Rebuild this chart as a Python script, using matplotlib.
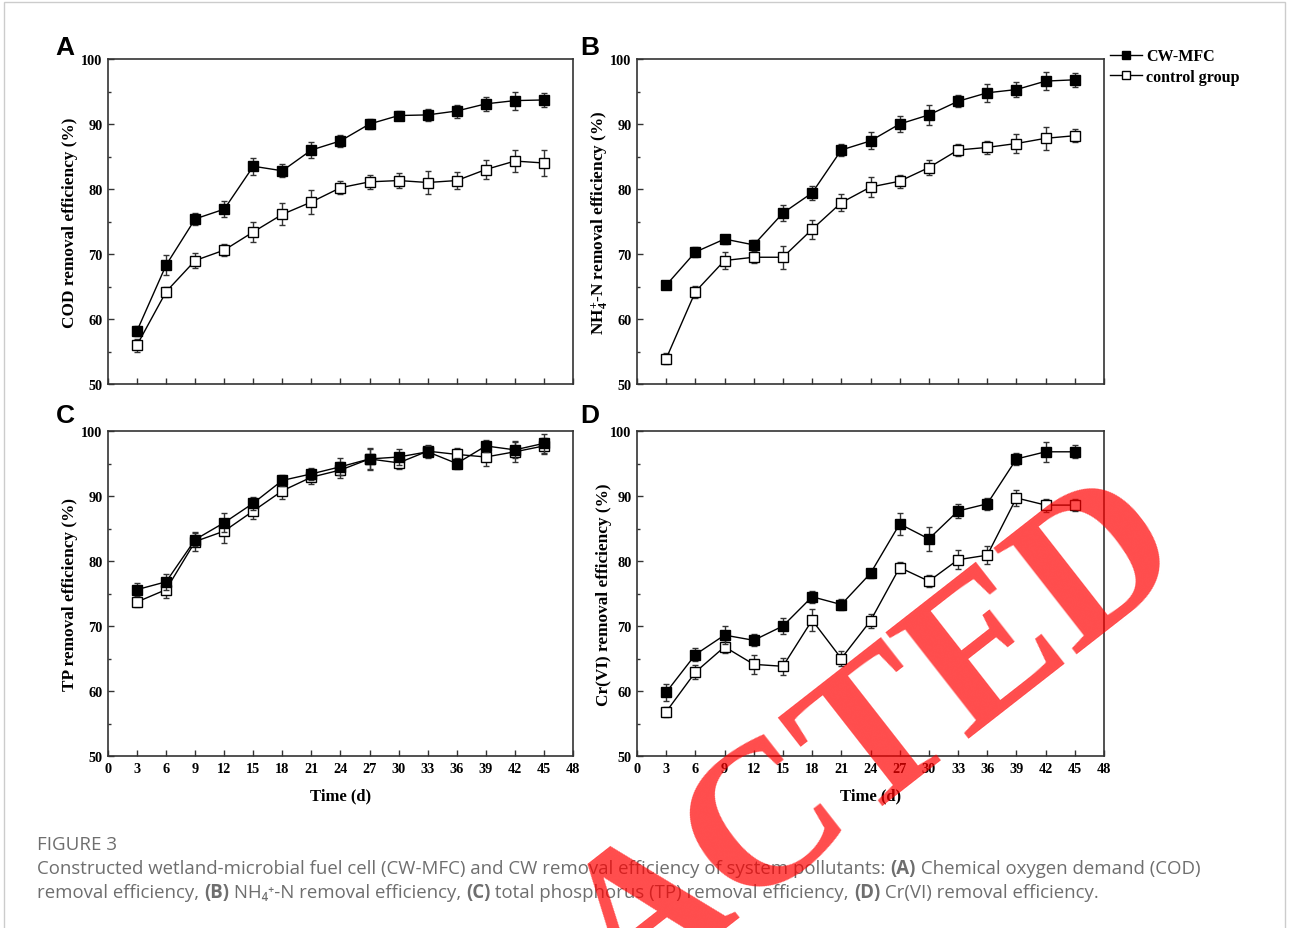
import matplotlib
matplotlib.use("Agg")
import matplotlib.pyplot as plt
from matplotlib.patches import Rectangle
from matplotlib.lines import Line2D
from matplotlib.ticker import MultipleLocator

# ---------------- data ----------------
days = [3, 6, 9, 12, 15, 18, 21, 24, 27, 30, 33, 36, 39, 42, 45]
xticks = list(range(0, 49, 3))

cod_mfc = [58.2, 68.3, 75.4, 76.9, 83.5, 82.8, 86.0, 87.4, 90.0, 91.3, 91.4, 92.0, 93.1, 93.6, 93.7]
cod_mfc_err = [0.8, 1.5, 0.9, 1.2, 1.3, 1.0, 1.2, 0.9, 0.8, 0.7, 0.9, 1.0, 1.1, 1.4, 1.1]
cod_ctl = [56.0, 64.2, 69.0, 70.6, 73.4, 76.1, 78.0, 80.2, 81.1, 81.3, 81.0, 81.3, 83.0, 84.3, 84.0]
cod_ctl_err = [1.0, 0.8, 1.2, 0.9, 1.6, 1.7, 1.9, 1.0, 1.1, 1.2, 1.7, 1.3, 1.4, 1.7, 2.0]

nh_mfc = [65.2, 70.3, 72.3, 71.4, 76.3, 79.4, 86.0, 87.4, 90.0, 91.4, 93.5, 94.8, 95.3, 96.6, 96.8]
nh_mfc_err = [0.6, 0.8, 0.7, 0.8, 1.2, 1.1, 0.9, 1.3, 1.3, 1.5, 0.9, 1.4, 1.2, 1.4, 1.1]
nh_ctl = [53.9, 64.2, 69.0, 69.5, 69.5, 73.8, 77.9, 80.3, 81.2, 83.3, 86.0, 86.4, 87.0, 87.8, 88.2]
nh_ctl_err = [0.8, 0.9, 1.3, 0.9, 1.8, 1.5, 1.3, 1.5, 1.0, 1.2, 0.9, 1.0, 1.4, 1.8, 1.0]

tp_mfc = [75.6, 76.8, 83.3, 85.9, 88.9, 92.4, 93.4, 94.5, 95.7, 96.0, 96.8, 95.0, 97.7, 97.1, 98.1]
tp_mfc_err = [1.0, 1.2, 1.0, 1.5, 1.0, 0.8, 0.9, 1.3, 1.5, 1.3, 0.9, 0.8, 0.9, 1.3, 1.5]
tp_ctl = [73.7, 75.6, 83.0, 84.6, 87.7, 90.8, 92.9, 94.0, 95.7, 95.1, 96.9, 96.4, 96.0, 96.8, 97.7]
tp_ctl_err = [0.8, 1.3, 1.4, 1.8, 1.2, 1.2, 1.1, 1.2, 1.7, 1.0, 0.9, 1.0, 1.4, 1.5, 1.2]

cr_mfc = [59.8, 65.6, 68.6, 67.8, 70.0, 74.5, 73.3, 78.1, 85.7, 83.4, 87.7, 88.8, 95.7, 96.8, 96.8]
cr_mfc_err = [1.3, 1.0, 1.4, 0.9, 1.2, 0.9, 0.8, 0.7, 1.7, 1.8, 1.1, 0.9, 0.9, 1.5, 1.0]
cr_ctl = [56.8, 62.9, 66.8, 64.1, 63.8, 70.9, 65.0, 70.8, 79.0, 76.9, 80.2, 80.9, 89.7, 88.6, 88.6]
cr_ctl_err = [0.8, 1.1, 1.0, 1.5, 1.3, 1.7, 1.2, 1.1, 0.9, 0.9, 1.5, 1.4, 1.2, 1.0, 0.9]

series_labels = ["CW-MFC", "control group"]
ylabels = ["COD removal efficiency (%)",
           r"NH$_{4}^{+}$-N removal efficiency (%)",
           "TP removal efficiency (%)",
           "Cr(VI) removal efficiency (%)"]
panel_letters = ["A", "B", "C", "D"]
xlabel = "Time (d)"

# ---------------- style ----------------
plt.rcParams["font.family"] = ["Liberation Serif", "DejaVu Serif"]
plt.rcParams["mathtext.fontset"] = "custom"
plt.rcParams["mathtext.rm"] = "Liberation Serif:bold"
plt.rcParams["mathtext.it"] = "Liberation Serif:bold:italic"
plt.rcParams["mathtext.bf"] = "Liberation Serif:bold"

W, H = 1290, 929
fig = plt.figure(figsize=(W / 100, H / 100), dpi=100)
fig.patch.set_facecolor("white")

def fx(px):
    return px / W

def fy(py):
    return 1 - py / H

# axes boxes in pixels: left, right, top, bottom
boxes = [(108, 573, 60, 385), (637, 1104, 60, 385),
         (108, 573, 432, 757), (637, 1104, 432, 757)]
ylabel_x = [78, 610, 78, 612]   # right edge (baseline side) of rotated y label, px
letter_pos = [(65, 48), (590, 48), (65, 416), (590, 416)]

data = [(cod_mfc, cod_mfc_err, cod_ctl, cod_ctl_err),
        (nh_mfc, nh_mfc_err, nh_ctl, nh_ctl_err),
        (tp_mfc, tp_mfc_err, tp_ctl, tp_ctl_err),
        (cr_mfc, cr_mfc_err, cr_ctl, cr_ctl_err)]

spine_col = "#333333"
axes = []
for i, (l, r, t, b) in enumerate(boxes):
    ax = fig.add_axes([fx(l), fy(b), (r - l) / W, (b - t) / H])
    axes.append(ax)
    m, me, c, ce = data[i]
    ax.errorbar(days, c, yerr=ce, color="black", ecolor="#333333", lw=1.0,
                elinewidth=1.0, capsize=2.5, capthick=1.0, marker="s", ms=6.5,
                mfc="white", mec="black", mew=1.0, zorder=3)
    ax.errorbar(days, m, yerr=me, color="black", ecolor="#333333", lw=1.0,
                elinewidth=1.0, capsize=2.5, capthick=1.0, marker="s", ms=6.5,
                mfc="black", mec="black", mew=1.0, zorder=4)
    ax.set_xlim(0, 48)
    ax.set_ylim(50, 100)
    ax.set_xticks(xticks)
    ax.yaxis.set_major_locator(MultipleLocator(10))
    ax.yaxis.set_minor_locator(MultipleLocator(5))
    ax.tick_params(axis="both", which="major", direction="in", length=4.5, width=1.0,
                   color=spine_col, labelsize=10.3, pad=4)
    ax.tick_params(axis="y", which="minor", direction="in", length=2.5, width=1.0,
                   color=spine_col)
    for lab in ax.get_xticklabels() + ax.get_yticklabels():
        lab.set_fontweight("bold")
    for sp in ax.spines.values():
        sp.set_color(spine_col)
        sp.set_linewidth(1.2)
    if i < 2:
        ax.tick_params(axis="x", labelbottom=False)
    else:
        ax.set_xlabel(xlabel, fontsize=12, fontweight="bold")
        ax.xaxis.set_label_coords(0.5, -31 / (b - t))
    ax.set_ylabel(ylabels[i], fontsize=12.4, fontweight="bold")
    ax.yaxis.set_label_coords((ylabel_x[i] - l) / (r - l), 0.5)
    lx, ly = letter_pos[i]
    fig.text(fx(lx), fy(ly), panel_letters[i], family="Liberation Sans", fontweight="bold",
             fontsize=19, ha="center", va="center")

# legend (line + marker handles)
h_mfc = Line2D([], [], color="black", lw=1.0, marker="s", ms=6, mfc="black", mec="black")
h_ctl = Line2D([], [], color="black", lw=1.0, marker="s", ms=6, mfc="white", mec="black")
axes[1].legend([h_mfc, h_ctl], series_labels, loc="upper left",
               bbox_to_anchor=(1.0, 1.053), frameon=False, handlelength=2.0,
               handletextpad=0.25, borderaxespad=0.2, borderpad=0.2, labelspacing=0.3,
               prop={"family": "Liberation Serif", "weight": "bold", "size": 11.5})

# outer frame
fig.patches.append(Rectangle((fx(4), -0.05), (1285 - 4) / W, fy(3) + 0.05,
                             transform=fig.transFigure, fill=False, ec="#cccccc", lw=1.0))

# caption
cap_col = "#6e6e6e"
cap_fam = ["Open Sans", "DejaVu Sans"]
fig.text(fx(37), fy(845), "FIGURE 3", family=cap_fam, fontsize=13.5, color=cap_col,
         va="center", ha="left")

renderer = fig.canvas.get_renderer()

def rich_line(x_px, y_px, parts, size=13.45):
    x = x_px
    for txt, bold in parts:
        t = fig.text(fx(x), fy(y_px), txt, family=cap_fam, fontsize=size, color=cap_col,
                     fontweight="bold" if bold else "normal", va="center", ha="left")
        bb = t.get_window_extent(renderer=renderer)
        x += bb.width

rich_line(37, 869, [("Constructed wetland-microbial fuel cell (CW-MFC) and CW removal efficiency of system pollutants: ", False),
                    ("(A)", True), (" Chemical oxygen demand (COD)", False)])
rich_line(37, 893, [("removal efficiency, ", False), ("(B)", True),
                    (" NH\u2084\u207a-N removal efficiency, ", False), ("(C)", True),
                    (" total phosphorus (TP) removal efficiency, ", False), ("(D)", True),
                    (" Cr(VI) removal efficiency.", False)])

# stamp
fig.text(fx(706), fy(878), "REDACTED", family="Liberation Serif", fontweight="bold",
         fontsize=148, color="red", alpha=0.7, rotation=38, rotation_mode="anchor",
         ha="center", va="center", zorder=100)

fig.savefig("out.png", dpi=100)
